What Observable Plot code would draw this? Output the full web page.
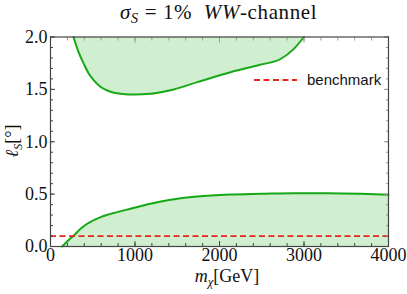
<!DOCTYPE html>
<html><head><meta charset="utf-8">
<script src="https://cdn.jsdelivr.net/npm/d3@7"></script>
<script src="https://cdn.jsdelivr.net/npm/@observablehq/plot@0.6"></script>
<style>
body{margin:0;background:#fff;}
#wrap{position:relative;width:407px;height:294px;color:#111;}
.serif{font-family:'Liberation Serif';}
#title{position:absolute;left:0;top:0px;width:407px;text-align:center;font-size:21px;letter-spacing:0.6px;white-space:pre;padding-left:30px;box-sizing:border-box;line-height:25px;}
#ylab{position:absolute;left:12px;top:141px;transform:translate(-50%,-50%) rotate(-90deg);font-size:18px;white-space:nowrap;}
#xlab{position:absolute;left:227px;top:276px;transform:translate(-50%,-50%);font-size:18px;white-space:nowrap;}
#legend{position:absolute;left:254px;top:71px;font-family:'Liberation Sans';font-size:15px;display:flex;align-items:center;color:#111;}
sub{font-size:70%;vertical-align:-4px;line-height:0;}
svg text{font-family:'Liberation Serif' !important;}
</style></head>
<body>
<div id="wrap">
<div id="chart"></div>
<div id="title" class="serif"><i>σ</i><sub><i>S</i></sub> = 1%  <i>WW</i>-channel</div>
<div id="ylab" class="serif"><i>ℓ</i><sub><i>S</i></sub>[°]</div>
<div id="xlab" class="serif"><i>m</i><sub><i>χ</i></sub>[GeV]</div>
<div id="legend"><svg width="44" height="16"><line x1="0" x2="43" y1="8" y2="8" stroke="#e8261c" stroke-width="1.8" stroke-dasharray="6,3.5"/></svg><span style="margin-left:9px">benchmark</span></div>
</div>
<script>
const upperMass = [272, 330, 394, 450, 513, 590, 671, 750, 850, 1000, 1183, 1320, 1459, 1736, 2130, 2480, 2722, 2880, 3000];
const upperEll  = [2.0, 1.86, 1.744, 1.655, 1.585, 1.525, 1.489, 1.467, 1.457, 1.452, 1.458, 1.475, 1.499, 1.569, 1.664, 1.735, 1.79, 1.887, 2.0];
const lowerMass = [138, 200, 276, 350, 434, 592, 789, 947, 1183, 1420, 1736, 2130, 2500, 2880, 3274, 3669, 4000];
const lowerEll  = [0.0, 0.05, 0.105, 0.165, 0.217, 0.28, 0.328, 0.36, 0.408, 0.446, 0.477, 0.496, 0.503, 0.509, 0.509, 0.503, 0.493];
const benchmarkEll = 0.1;
const xDomain = [0, 4000];
const yDomain = [0, 2];
const xMajor = [0, 1000, 2000, 3000, 4000];
const yMajor = [0, 0.5, 1.0, 1.5, 2.0];

const upper = upperMass.map((m, i) => ({m, l: upperEll[i]}));
const lower = lowerMass.map((m, i) => ({m, l: lowerEll[i]}));
const xMinor = d3.range(0, 4001, 200);
const yMinor = d3.range(0, 21).map(d => d / 10);
const green = "#16a816", fillG = "#d0eed0", frameC = "#444";
const serif = "Liberation Serif";

const plot = Plot.plot({
  width: 407, height: 294,
  marginLeft: 50, marginRight: 19, marginTop: 36.5, marginBottom: 48,
  x: {domain: xDomain},
  y: {domain: yDomain},
  style: {fontFamily: "'Liberation Serif'", fontSize: "18px", color: "#111", background: "white"},
  marks: [
    Plot.areaY(upper, {x: "m", y1: "l", y2: () => yDomain[1], fill: fillG, curve: "monotone-x"}),
    Plot.areaY(lower, {x: "m", y1: () => yDomain[0], y2: "l", fill: fillG, curve: "monotone-x"}),
    Plot.line(upper, {x: "m", y: "l", stroke: green, strokeWidth: 2, curve: "monotone-x"}),
    Plot.line(lower, {x: "m", y: "l", stroke: green, strokeWidth: 2, curve: "monotone-x"}),
    Plot.ruleY([benchmarkEll], {stroke: "#e8261c", strokeWidth: 1.8, strokeDasharray: "6,3.5"}),
    Plot.axisX({anchor: "bottom", ticks: xMinor, tickSize: -3, tickFormat: () => "", stroke: frameC, label: null}),
    Plot.axisX({anchor: "bottom", ticks: xMajor, tickSize: -5, tickPadding: 7, tickFormat: d3.format("d"), stroke: frameC, label: null, fontSize: 18, fontFamily: serif}),
    Plot.axisX({anchor: "top", ticks: xMinor, tickSize: -3, tickFormat: () => "", stroke: "#999", label: null}),
    Plot.axisX({anchor: "top", ticks: xMajor, tickSize: -5, tickFormat: () => "", stroke: "#999", label: null}),
    Plot.axisY({anchor: "left", ticks: yMinor, tickSize: -3, tickFormat: () => "", stroke: frameC, label: null}),
    Plot.axisY({anchor: "left", ticks: yMajor, tickSize: -5, tickPadding: 8, tickFormat: d3.format(".1f"), stroke: frameC, label: null, fontSize: 18, fontFamily: serif}),
    Plot.axisY({anchor: "right", ticks: yMinor, tickSize: -3, tickFormat: () => "", stroke: "#999", label: null}),
    Plot.axisY({anchor: "right", ticks: yMajor, tickSize: -5, tickFormat: () => "", stroke: "#999", label: null}),
    Plot.frame({stroke: frameC, strokeWidth: 1.2})
  ]
});
d3.select(plot).selectAll("text, g").style("font-family", "'Liberation Serif'");
document.getElementById("chart").append(plot);
</script>
</body></html>
